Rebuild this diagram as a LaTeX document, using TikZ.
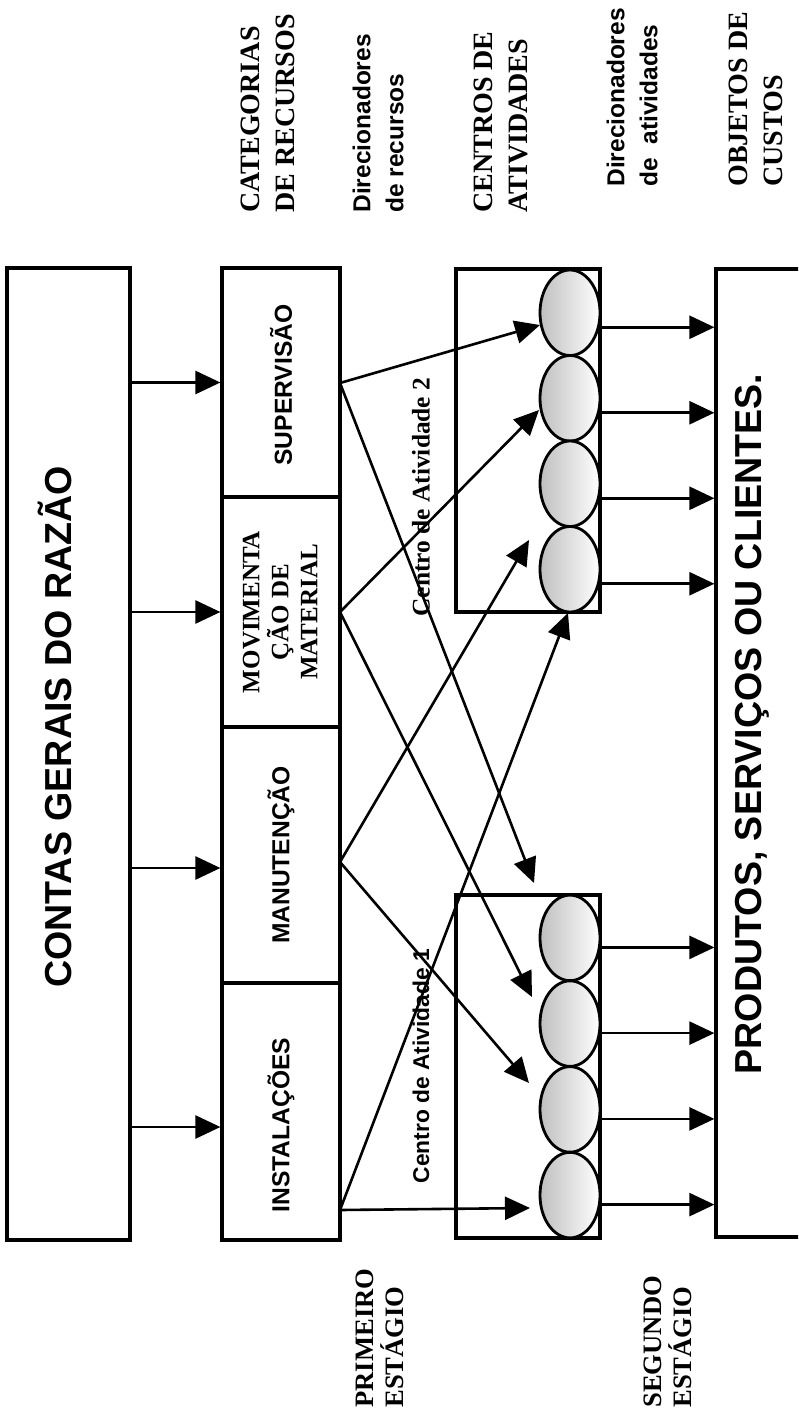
\documentclass[tikz,border=0pt]{standalone}
\usepackage{fontspec}
\setmainfont{Liberation Serif}
\setsansfont{Liberation Sans}
\usetikzlibrary{arrows.meta,shapes.geometric}
\begin{document}
\begin{tikzpicture}[x=0.5pt,y=-0.5pt,
  box/.style={draw, line width=1.6pt, rectangle, inner sep=0pt},
  arr/.style={line width=1.3pt, -{Triangle[length=12.5pt,width=11.5pt]}},
  ell/.style={ellipse, draw, line width=1.4pt, minimum width=30pt, minimum height=42.75pt, inner sep=0pt,
              left color=gray!50, middle color=gray!15, right color=white},
  rt/.style={rotate=90, inner sep=0pt},
  bigtxt/.style={rt, font=\sffamily\bfseries\fontsize{18.8}{22}\selectfont},
  cattxt/.style={rt, font=\sffamily\bfseries\fontsize{12.3}{14}\selectfont},
  movtxt/.style={rt, align=center, font=\rmfamily\bfseries\fontsize{12.5}{14.5}\selectfont},
  serlab/.style={rt, anchor=west, align=left, font=\rmfamily\bfseries\fontsize{14}{17.5}\selectfont},
  sanlab/.style={rt, anchor=west, align=left, font=\sffamily\bfseries\fontsize{12.25}{16.5}\selectfont},
  stglab/.style={rt, anchor=west, align=left, font=\rmfamily\bfseries\fontsize{13.3}{15}\selectfont},
]
\useasboundingbox (0,0) rectangle (798,1423);
\clip (0,0) rectangle (798,1423);

% top labels
\node[serlab] (lcat) at (268,213) {CATEGORIAS\\DE RECURSOS};
\node[sanlab] (ldr) at (378,213) {Direcionadores\\de recursos};
\node[serlab] (lcen) at (501,213) {CENTROS DE\\ATIVIDADES};
\node[sanlab] (lda) at (632,187) {Direcionadores\\de~ atividades};
\node[serlab] (lobj) at (756,187) {OBJETOS DE\\CUSTOS};

% bottom labels
\node[stglab] (lpri) at (380,1408) {PRIMEIRO\\ESTÁGIO};
\node[stglab] (lseg) at (668,1408) {SEGUNDO\\ESTÁGIO};

% box 1
\node[box, minimum width=61.5pt, minimum height=486pt] (contas) at (68.5,754) {};
\node[bigtxt] (tcontas) at (55,727) {CONTAS GERAIS DO RAZÃO};

% category boxes
\node[box, minimum width=59pt, minimum height=114.5pt] (sup) at (281,382.5) {};
\node[box, minimum width=59pt, minimum height=115pt] (mov) at (281,612) {};
\node[box, minimum width=59pt, minimum height=128pt] (man) at (281,855) {};
\node[box, minimum width=59pt, minimum height=128.5pt] (inst) at (281,1111.5) {};
\node[cattxt] (tsup) at (281,385) {SUPERVISÃO};
\node[movtxt] (tmov) at (280,612) {MOVIMENTA\\ÇÃO DE\\MATERIAL};
\node[cattxt] (tman) at (281,855) {MANUTENÇÃO};
\node[cattxt] (tinst) at (281,1125) {INSTALAÇÕES};

% activity centres
\node[box, minimum width=72pt, minimum height=171.5pt] (c2) at (528,440.5) {};
\node[box, minimum width=72pt, minimum height=171.5pt] (c1) at (528,1066.5) {};
\node[ell] (a1) at (570,312.75) {};
\node[ell] (a2) at (570,398.25) {};
\node[ell] (a3) at (570,483.75) {};
\node[ell] (a4) at (570,569.25) {};
\node[ell] (b1) at (570,937.9) {};
\node[ell] (b2) at (570,1023.6) {};
\node[ell] (b3) at (570,1109.4) {};
\node[ell] (b4) at (570,1195.1) {};
\node[rt, font=\rmfamily\bfseries\fontsize{12.7}{14}\selectfont] (tc2) at (421,497) {Centro de Atividade 2};
\node[rt, font=\sffamily\bfseries\fontsize{11.4}{13}\selectfont] (tc1) at (421,1066) {Centro de Atividade 1};

% cost objects box
\node[box, minimum width=62pt, minimum height=484pt] (prod) at (778,753) {};
\node[bigtxt] (tprod) at (752,724) {PRODUTOS, SERVIÇOS OU CLIENTES.};

% arrows box 1 -> categories
\draw[arr] (sup.west -| contas.east) -- (sup.west);
\draw[arr] (mov.west -| contas.east) -- (mov.west);
\draw[arr, transform canvas={yshift=-6.5pt}] (man.west -| contas.east) -- (man.west);
\draw[arr, transform canvas={yshift=-7.75pt}] (inst.west -| contas.east) -- (inst.west);

% resource driver arrows
\coordinate (s1) at (340,383);
\coordinate (s2) at (340,612);
\coordinate (s3) at (340,862);
\coordinate (s4) at (340,1210);
\coordinate (t11) at (540,325);
\coordinate (t12) at (534,883);
\coordinate (t21) at (539,410);
\coordinate (t22) at (532,997);
\coordinate (t31) at (529,540);
\coordinate (t32) at (529,1083);
\coordinate (t41) at (568,613);
\coordinate (t42) at (530,1208);
\draw[arr] (s1) -- (t11);
\draw[arr] (s1) -- (t12);
\draw[arr] (s2) -- (t21);
\draw[arr] (s2) -- (t22);
\draw[arr] (s3) -- (t31);
\draw[arr] (s3) -- (t32);
\draw[arr] (s4) -- (t41);
\draw[arr] (s4) -- (t42);

% activity driver arrows
\foreach \e in {a1,a2,a3,a4}{
  \draw[arr, transform canvas={yshift=-7.25pt}] (\e.east) -- (\e.east -| prod.west);
}
\foreach \e in {b1,b2,b3,b4}{
  \draw[arr, transform canvas={yshift=-4.75pt}] (\e.east) -- (\e.east -| prod.west);
}
\end{tikzpicture}
\end{document}
